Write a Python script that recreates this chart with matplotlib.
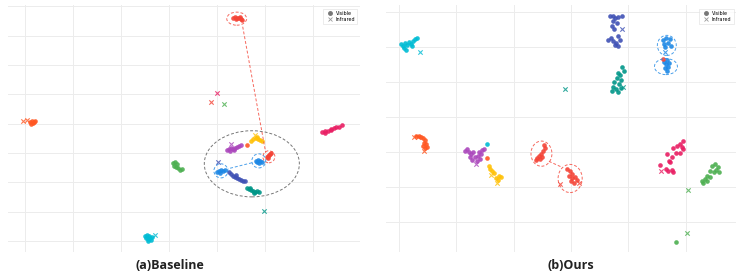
import matplotlib
matplotlib.use('Agg')
import matplotlib.pyplot as plt
from matplotlib.patches import Ellipse
from matplotlib.lines import Line2D

# colours (material palette)
RED = '#F44336'
PINK = '#E91E63'
PURPLE = '#AB47BC'
INDIGO = '#3F51B5'
BLUE = '#1E88E5'
CYAN = '#00BCD4'
TEAL = '#009688'
GREEN = '#4CAF50'
AMBER = '#FFC107'
ORANGE = '#FF5722'

# ---------------- (a) Baseline : visible points ----------------
base_vis = {
    RED: [(26.7, 72.4), (27.5, 73.0), (28.3, 72.4), (29.2, 72.4), (30.0, 71.7), (30.4, 71.0),
          (27.9, 71.7), (29.6, 73.0),
          (40.8, -22.5), (41.3, -21.8), (41.7, -21.2), (42.1, -20.5), (42.5, -19.8), (41.3, -23.2)],
    PINK: [(63.8, -5.5), (65.0, -4.8), (66.3, -4.8), (67.5, -4.1), (68.8, -2.7), (69.6, -2.0),
           (70.8, -2.0), (72.1, -0.7), (65.0, -6.1), (67.5, -3.4)],
    GREEN: [(1.7, -26.6), (2.5, -25.9), (3.3, -27.3), (2.1, -28.7), (3.8, -30.0), (4.6, -31.4),
            (5.4, -30.7), (2.9, -29.4)],
    ORANGE: [(-57.9, 1.4), (-57.1, 2.0), (-56.3, 1.4), (-57.5, 0.0), (-56.7, 0.7), (-55.8, 2.0),
             (32.5, -14.3)],
    AMBER: [(34.2, -11.6), (35.0, -10.2), (36.3, -9.6), (37.1, -10.2), (37.9, -10.9), (38.8, -11.6),
            (36.7, -8.9)],
    PURPLE: [(24.2, -17.7), (25.0, -17.1), (25.8, -16.4), (26.7, -17.1), (27.5, -16.4), (28.3, -15.7),
             (29.2, -15.0), (30.0, -14.3), (25.4, -18.4), (27.1, -17.7)],
    BLUE: [(36.3, -25.3), (37.1, -24.6), (37.9, -25.3), (38.8, -25.9), (36.7, -25.9), (37.5, -26.6),
           (20.0, -32.8), (20.8, -32.1), (21.7, -31.4), (22.5, -32.1), (23.3, -31.4), (21.3, -33.4)],
    INDIGO: [(25.0, -32.8), (25.8, -34.1), (26.7, -35.5), (27.5, -36.2), (28.3, -36.9), (29.2, -37.5),
             (30.0, -38.2), (30.8, -38.9), (31.7, -38.9), (27.9, -34.8)],
    TEAL: [(32.5, -43.7), (33.3, -44.4), (34.2, -45.1), (35.0, -45.7), (35.8, -46.4), (36.7, -45.7),
           (37.5, -46.4), (33.8, -43.7), (35.4, -47.1)],
    CYAN: [(-10.0, -76.5), (-9.2, -75.8), (-8.3, -76.5), (-9.6, -77.8), (-8.8, -78.5), (-7.9, -77.8),
           (-7.1, -77.1), (-7.5, -79.2), (-8.8, -79.9)],
}
# infrared points
base_ir = {
    RED: [(17.5, 15.0)],
    PINK: [(20.0, 21.2)],
    GREEN: [(22.9, 13.7)],
    ORANGE: [(-60.8, 2.0), (-59.2, 2.7)],
    AMBER: [(35.8, -7.5)],
    PURPLE: [(25.8, -13.7)],
    INDIGO: [(20.4, -25.9)],
    TEAL: [(39.6, -59.4)],
    CYAN: [(-5.8, -75.8)],
}

# ---------------- (b) Ours : visible points ----------------
ours_vis = {
    CYAN: [(-59.2, 41.5), (-58.5, 40.3), (-57.8, 42.1), (-57.1, 40.9), (-58.2, 39.2), (-56.4, 42.7),
           (-55.7, 41.5), (-55.0, 43.2), (-54.3, 44.4), (-53.7, 45.0), (-55.4, 40.3), (-57.5, 38.0),
           (-29.3, -15.6)],
    INDIGO: [(13.6, 57.6), (14.6, 57.6), (15.3, 56.5), (16.4, 57.1), (17.8, 57.6), (14.6, 54.8),
             (16.0, 53.6), (14.3, 51.9), (15.0, 50.1), (12.9, 43.8), (13.9, 45.0), (14.6, 43.2),
             (15.7, 42.1), (16.4, 46.1), (17.1, 43.8), (15.3, 40.9), (16.4, 40.3)],
    BLUE: [(32.1, 43.8), (33.1, 45.0), (34.5, 44.4), (32.4, 41.5), (33.8, 42.1), (34.8, 40.3),
           (32.7, 39.8),
           (32.4, 31.7), (33.4, 32.3), (34.1, 31.1), (33.1, 30.0), (32.7, 28.2), (33.8, 28.8),
           (33.4, 26.5)],
    TEAL: [(17.8, 28.8), (18.5, 26.5), (16.4, 25.4), (17.1, 24.2), (16.0, 22.5), (17.4, 21.3),
           (15.0, 20.2), (16.7, 19.0), (14.6, 17.3), (15.7, 16.1), (14.3, 15.0), (16.4, 14.4),
           (17.4, 16.7)],
    ORANGE: [(-54.0, -11.0), (-53.0, -11.0), (-52.3, -11.5), (-51.6, -12.1), (-50.9, -13.3),
             (-51.2, -15.0), (-50.5, -15.6), (-50.2, -17.3), (-50.9, -17.9), (-51.6, -16.7),
             (-29.3, -23.6)],
    PURPLE: [(-36.9, -19.6), (-36.2, -18.4), (-35.5, -20.2), (-34.8, -21.3), (-34.1, -20.2),
             (-35.2, -23.1), (-34.5, -24.8), (-33.4, -23.1), (-32.4, -22.5), (-32.1, -20.2),
             (-31.4, -21.3), (-31.0, -19.0), (-30.3, -18.4), (-31.7, -24.2), (-32.7, -25.4)],
    AMBER: [(-28.6, -28.2), (-28.2, -30.0), (-27.5, -31.1), (-26.8, -32.3), (-26.1, -35.2),
            (-25.1, -34.0), (-24.4, -34.6), (-25.4, -36.3)],
    RED: [(-9.4, -16.1), (-9.1, -17.9), (-9.8, -19.6), (-10.5, -21.3), (-11.1, -22.5), (-11.8, -23.6),
          (-12.2, -24.8), (-10.8, -24.2), (-10.1, -23.1),
          (-1.4, -30.0), (-0.3, -31.1), (0.3, -32.9), (-0.7, -34.0), (0.3, -35.2), (1.4, -34.6),
          (2.1, -36.3), (1.0, -37.5), (0.0, -36.9),
          (32.1, 33.4)],
    PINK: [(39.0, -13.8), (38.0, -15.6), (38.7, -17.3), (36.9, -16.7), (35.5, -17.9), (39.0, -18.4),
           (36.6, -20.8), (38.0, -20.8), (33.4, -21.3), (35.2, -23.1), (34.1, -25.4), (34.5, -25.9),
           (31.0, -27.7), (33.1, -30.0), (33.8, -31.1), (35.2, -30.5), (35.5, -31.7)],
    GREEN: [(50.2, -27.1), (49.1, -28.2), (51.2, -28.8), (50.5, -30.5), (48.4, -31.1), (49.8, -31.7),
            (51.6, -31.7), (47.4, -34.0), (48.4, -34.6), (46.7, -35.7), (45.6, -36.9), (46.0, -37.5),
            (47.4, -36.9), (36.6, -71.5)],
}
ours_ir = {
    CYAN: [(-52.6, 36.9)],
    INDIGO: [(17.8, 50.1)],
    BLUE: [(32.7, 36.9)],
    TEAL: [(18.1, 17.3), (-2.1, 16.1)],
    ORANGE: [(-54.7, -11.5), (-53.3, -11.5), (-51.2, -19.6)],
    PURPLE: [(-33.1, -27.1)],
    AMBER: [(-27.9, -33.4), (-25.8, -37.5)],
    RED: [(-3.8, -38.6), (2.8, -37.5)],
    PINK: [(31.4, -31.1)],
    GREEN: [(40.8, -41.5), (40.4, -66.3)],
}

base_xticks = [-60, -40, -20, 0, 20, 40, 60]
base_yticks = [-80, -60, -40, -20, 0, 20, 40, 60, 80]
ours_xticks = [-60, -40, -20, 0, 20, 40]
ours_yticks = [-60, -40, -20, 0, 20, 40, 60]

# dashed highlight ellipses: (x, y, w, h, colour)
base_rings = [(28.3, 71.7, 8.3, 8.9, RED), (41.7, -22.5, 5.0, 8.2, RED),
              (37.5, -25.3, 5.8, 9.6, BLUE), (21.7, -32.1, 5.8, 9.6, BLUE),
              (34.6, -27.3, 39.6, 45.1, '#555555')]
base_links = [((30.8, 66.2), (40.4, -19.8), RED), ((34.6, -26.6), (24.6, -30.7), BLUE)]
ours_rings = [(33.4, 40.9, 6.6, 11.5, BLUE), (33.1, 28.8, 8.0, 9.2, BLUE),
              (-10.3, -21.0, 7.3, 14.4, RED), (-0.3, -35.2, 8.4, 16.1, RED)]
ours_links = [((-7.7, -25.4), (-3.1, -28.8), RED)]

DOT = 11
CROSS = 10
GRIDC = '#ececec'

fig = plt.figure(figsize=(7.47, 2.79), dpi=100)
axA = fig.add_axes([0.0107, 0.097, 0.471, 0.885])
axB = fig.add_axes([0.5167, 0.097, 0.4685, 0.885])


def draw_panel(ax, vis, ir, rings, links, xt, yt, xl, yl):
    for c, pts in vis.items():
        ax.scatter([p[0] for p in pts], [p[1] for p in pts], s=DOT, c=c, marker='o',
                   linewidths=0, alpha=0.9, zorder=3)
    for c, pts in ir.items():
        ax.scatter([p[0] for p in pts], [p[1] for p in pts], s=CROSS, c=c, marker='x',
                   linewidths=0.8, alpha=0.8, zorder=3)
    for (x, y, w, h, c) in rings:
        ax.add_patch(Ellipse((x, y), w, h, fill=False, ec=c, ls=(0, (3, 2)), lw=0.7,
                             alpha=0.8, zorder=4))
    for (p0, p1, c) in links:
        ax.plot([p0[0], p1[0]], [p0[1], p1[1]], color=c, ls=(0, (3, 2)), lw=0.7,
                alpha=0.8, zorder=4)
    ax.set_xticks(xt)
    ax.set_yticks(yt)
    ax.set_xlim(*xl)
    ax.set_ylim(*yl)
    ax.grid(True, color=GRIDC, lw=0.7)
    ax.set_axisbelow(True)
    ax.tick_params(length=0, labelbottom=False, labelleft=False)
    for s in ax.spines.values():
        s.set_visible(False)
    hnd = [Line2D([], [], ls='', marker='o', color='#777777', ms=2.5, label='Visible'),
           Line2D([], [], ls='', marker='x', color='#999999', ms=2.5, mew=0.6, label='Infrared')]
    leg = ax.legend(handles=hnd, loc='upper right', fontsize=3.5, frameon=True,
                    handletextpad=0.3, borderpad=0.4, labelspacing=0.3,
                    bbox_to_anchor=(1.0, 0.995), fancybox=False)
    leg.get_frame().set_edgecolor('#dddddd')
    leg.get_frame().set_linewidth(0.5)


draw_panel(axA, base_vis, base_ir, base_rings, base_links, base_xticks, base_yticks,
           (-67, 79.6), (-87.4, 81))
draw_panel(axB, ours_vis, ours_ir, ours_rings, ours_links, ours_xticks, ours_yticks,
           (-64.5, 57.5), (-77.2, 64))

fig.text(0.228, 0.047, '(a)Baseline', ha='center', va='center', fontsize=9,
         fontweight='bold', family='Open Sans', color='#222222')
fig.text(0.764, 0.047, '(b)Ours', ha='center', va='center', fontsize=9,
         fontweight='bold', family='Open Sans', color='#222222')

fig.savefig('out.png', dpi=100)
